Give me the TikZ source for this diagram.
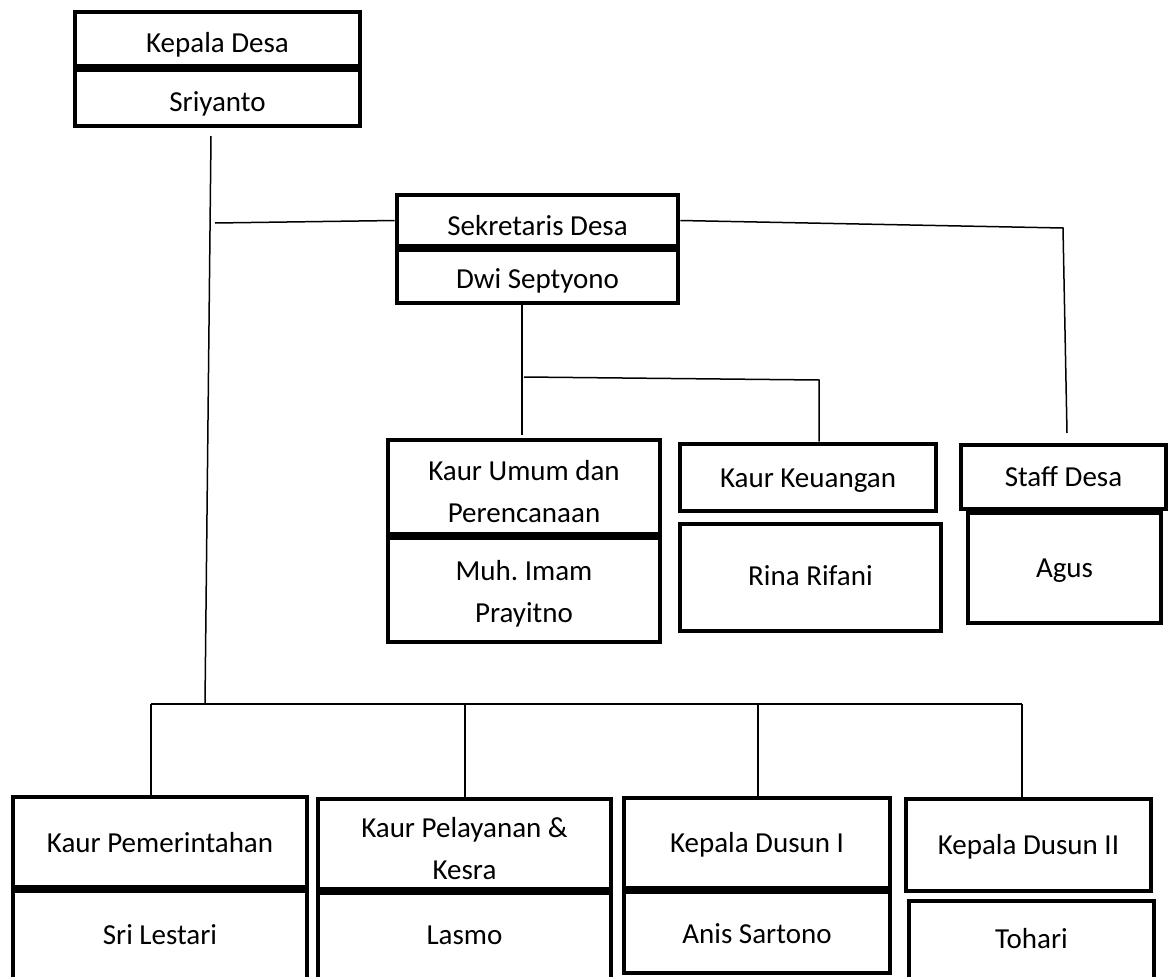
\documentclass[tikz,border=0pt]{standalone}
\usepackage{fontspec}
\setmainfont{Carlito}
\tikzset{
  boxn/.style={draw=black, line width=4.6pt, inner sep=0pt, fill=white},
  txt/.style={inner sep=0pt, align=center, font=\fontsize{29}{42}\selectfont},
  conn/.style={draw=black, line width=1.5pt}
}
% name, x1, y1, x2, y2, text, downward shift of text
\newcommand\bx[7]{%
  \node[boxn, minimum width={(#4-#2)*1pt}, minimum height={(#5-#3)*1pt}]
    (#1) at ({(#2+#4)/2},{(#3+#5)/2}) {};
  \node[txt, yshift={-(#7)*1pt}] (#1-t) at (#1.center) {#6};}
\begin{document}
\begin{tikzpicture}[x=1pt,y=-1pt]
\clip (0,0) rectangle (1171,977);
\fill[white] (0,0) rectangle (1171,977);

% boxes
\bx{kd}{75}{12}{360}{66}{Kepala Desa}{6}
\bx{sri}{75}{70}{360}{126}{Sriyanto}{6}
\bx{sek}{397}{195}{678}{246}{Sekretaris Desa}{5}
\bx{dwi}{397}{250}{678}{303}{Dwi Septyono}{4}
\bx{ku}{388}{440}{660}{534}{Kaur Umum dan\\Perencanaan}{5}
\bx{muh}{388}{538}{660}{642}{Muh.\ Imam\\Prayitno}{4}
\bx{kk}{680}{444}{936}{511}{Kaur Keuangan}{3}
\bx{rina}{680}{524}{941}{631}{Rina Rifani}{-2}
\bx{sd}{961}{445}{1166}{509}{Staff Desa}{0}
\bx{agus}{968}{513}{1161}{623}{Agus}{3}
\bx{kp}{13}{797}{307}{887}{Kaur Pemerintahan}{1}
\bx{sril}{13}{891}{307}{981}{Sri Lestari}{-1}
\bx{kpl}{318}{799}{611}{889}{Kaur Pelayanan \&\\Kesra}{5}
\bx{lasmo}{318}{893}{611}{981}{Lasmo}{-2}
\bx{kd1}{624}{798}{890}{888}{Kepala Dusun I}{2}
\bx{anis}{624}{892}{890}{973}{Anis Sartono}{1}
\bx{kd2}{906}{799}{1151}{891}{Kepala Dusun II}{2}
\bx{toh}{909}{901}{1154}{982}{Tohari}{-3}

% coordinates
\coordinate (srib) at (211,136);
\coordinate (busk) at (205,704);
\coordinate (sekl) at (215,223);
\coordinate (sekr) at (1063,228);
\coordinate (sdt) at (1067,433);
\coordinate (dwib) at (522,435);
\coordinate (br) at (524,377);
\coordinate (brr) at (819,380);
\coordinate (busl) at (151,704);
\coordinate (busr) at (1022,704);
\coordinate (d2) at (465,704);
\coordinate (d3) at (758,704);

% connectors
\draw[conn] (srib) -- (busk);
\draw[conn] (sekl) -- (sek.west);
\draw[conn] (sek.east) -- (sekr) -- (sdt);
\draw[conn] (dwi.south -| dwib) -- (dwib);
\draw[conn] (br) -- (brr) -- (brr |- kk.north);
\draw[conn] (busl) -- (busr);
\draw[conn] (busl) -- (busl |- kp.north);
\draw[conn] (d2) -- (d2 |- kpl.north);
\draw[conn] (d3) -- (d3 |- kd1.north);
\draw[conn] (busr) -- (busr |- kd2.north);
\end{tikzpicture}
\end{document}
